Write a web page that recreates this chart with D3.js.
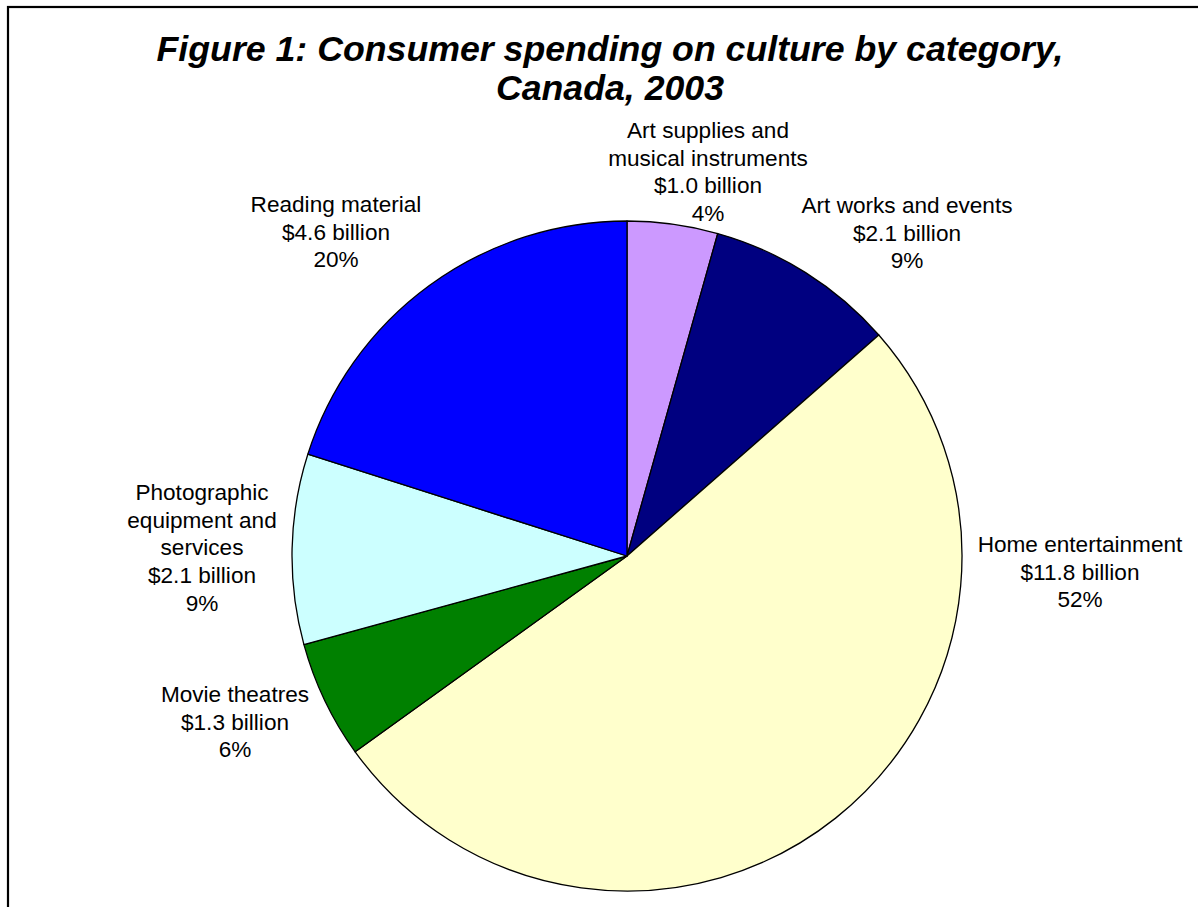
<!DOCTYPE html>
<html>
<head>
<meta charset="utf-8">
<script src="https://cdn.jsdelivr.net/npm/d3@7"></script>
<style>
  html, body { margin: 0; padding: 0; background: #fff; overflow: hidden; }
  svg { display: block; }
</style>
</head>
<body>
<svg id="chart" width="1198" height="907"></svg>
<script>
// Consumer spending on culture, Canada 2003 (billions of dollars)
const categories = [
  ["Art supplies and", "musical instruments"],
  ["Art works and events"],
  ["Home entertainment"],
  ["Movie theatres"],
  ["Photographic", "equipment and", "services"],
  ["Reading material"]
];
const values = [1.0, 2.1, 11.8, 1.3, 2.1, 4.6];
const colors = ["#CC99FF", "#000080", "#FFFFCC", "#008000", "#CCFFFF", "#0000FF"];
const titleLines = ["Figure 1: Consumer spending on culture by category,", "Canada, 2003"];

// Label block placement relative to the pie centre (x of block centre, y of first baseline)
const labelOffsets = [
  [81, -418], [280, -343], [453, -4], [-392, 146], [-425, -56], [-291, -344]
];

const W = 1198, H = 907;
const cx = 627, cy = 556, R = 335;
const labelFont = 22.6, lineGap = 27.7;

const svg = d3.select("#chart");

// frame
svg.append("rect")
  .attr("x", 8).attr("y", 7)
  .attr("width", W + 100).attr("height", H + 100)
  .attr("fill", "none").attr("stroke", "#000").attr("stroke-width", 2.2);

// title
const title = svg.append("text")
  .attr("text-anchor", "middle")
  .attr("font-family", "'Liberation Sans', Arial, sans-serif")
  .attr("font-size", 35.7)
  .attr("font-weight", "bold")
  .attr("font-style", "italic")
  .attr("fill", "#000");
title.selectAll("tspan").data(titleLines).join("tspan")
  .attr("x", 610)
  .attr("y", (d, i) => 61 + i * 39)
  .text(d => d);

const total = d3.sum(values);
const pct = d3.format(".0%");
const money = d3.format("$.1f");

const pie = d3.pie().sort(null).value(d => d)(values);
const arc = d3.arc().innerRadius(0).outerRadius(R);

const g = svg.append("g").attr("transform", `translate(${cx},${cy})`);

g.selectAll("path.slice").data(pie).join("path")
  .attr("class", "slice")
  .attr("d", arc)
  .attr("fill", (d, i) => colors[i])
  .attr("stroke", "#000")
  .attr("stroke-width", 1.3)
  .attr("stroke-linejoin", "round");

// labels: category name, dollar amount, share
const labels = g.selectAll("text.lbl").data(pie).join("text")
  .attr("class", "lbl")
  .attr("text-anchor", "middle")
  .attr("font-family", "'Liberation Sans', Arial, sans-serif")
  .attr("font-size", labelFont)
  .attr("fill", "#000");

labels.each(function (d, i) {
  const lines = categories[i].concat([
    money(values[i]) + " billion",
    pct(values[i] / total)
  ]);
  const [ox, oy] = labelOffsets[i];
  d3.select(this).selectAll("tspan").data(lines).join("tspan")
    .attr("x", ox)
    .attr("y", (t, k) => oy + k * lineGap)
    .text(t => t);
});
</script>
</body>
</html>
